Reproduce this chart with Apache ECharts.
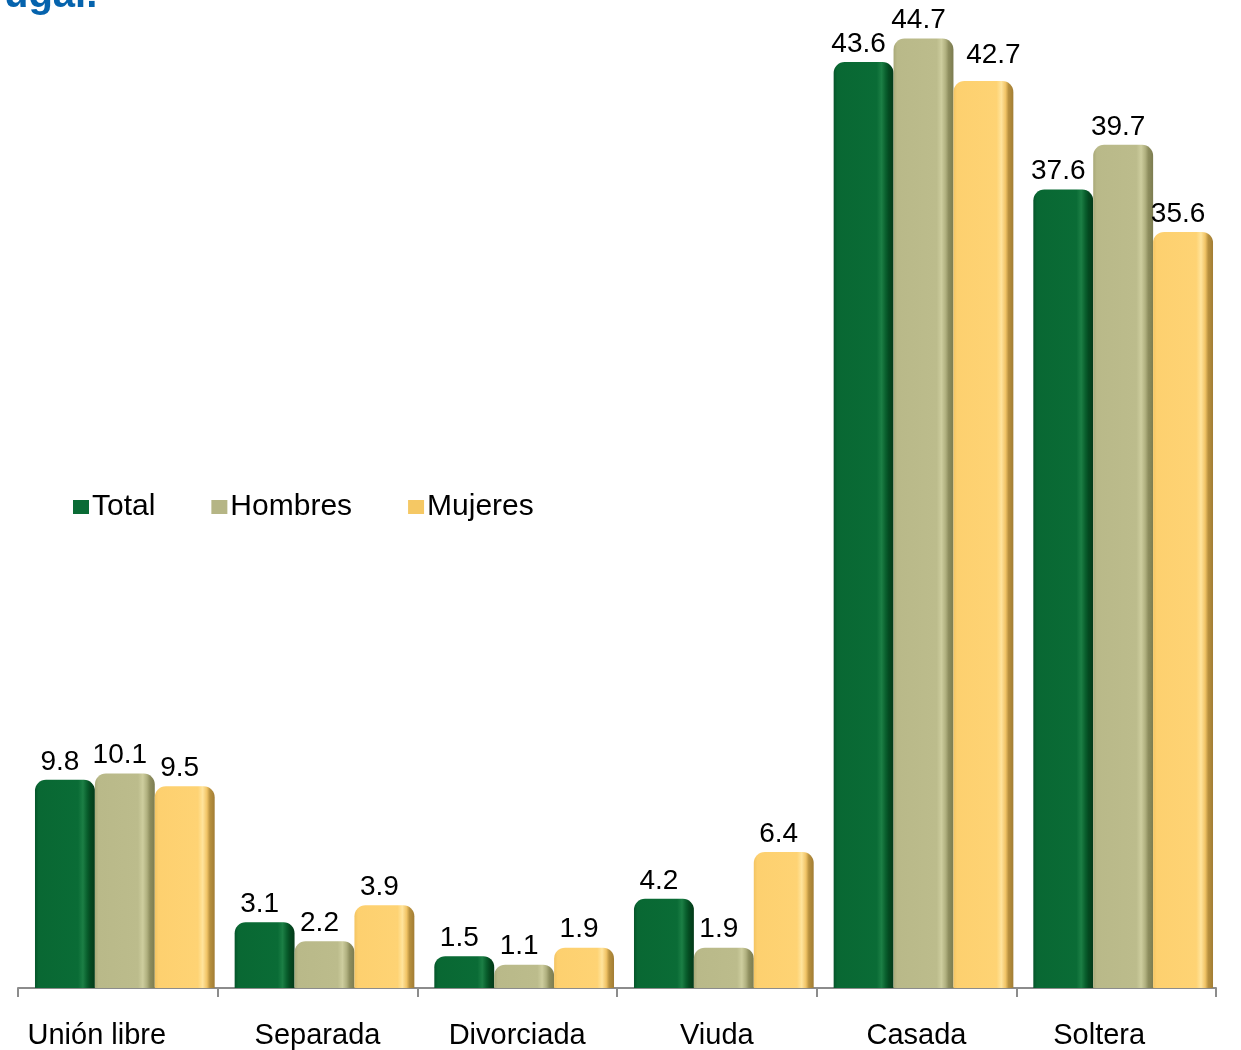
<!DOCTYPE html>
<html>
<head>
<meta charset="utf-8">
<script src="https://cdn.jsdelivr.net/npm/echarts@6/dist/echarts.min.js"></script>
<style>
html,body{margin:0;padding:0;background:#fff;}
#chart{width:1241px;height:1050px;}
</style>
</head>
<body>
<div id="chart"></div>
<script>
const categories = ['Unión libre', 'Separada', 'Divorciada', 'Viuda', 'Casada', 'Soltera'];
const totalValues = [9.8, 3.1, 1.5, 4.2, 43.6, 37.6];
const hombresValues = [10.1, 2.2, 1.1, 1.9, 44.7, 39.7];
const mujeresValues = [9.5, 3.9, 1.9, 6.4, 42.7, 35.6];
const seriesNames = ['Total', 'Hombres', 'Mujeres'];
const titleFragment = 'ugal.';

function grad(stops) {
  return new echarts.graphic.LinearGradient(0, 0, 1, 0, stops.map((c) => ({offset: c[0], color: c[1]})));
}
const styles = [
  grad([[0, '#05552a'], [0.06, '#096833'], [0.72, '#0a6c36'], [0.8, '#1c7f45'], [0.87, '#095f2d'], [0.92, '#044a21'], [1, '#033a18']]),
  grad([[0, '#a9a978'], [0.06, '#b9b989'], [0.72, '#bcbc8c'], [0.8, '#cdcd9e'], [0.87, '#b0b07f'], [0.92, '#8e8e5f'], [1, '#7c7c50']]),
  grad([[0, '#f3c462'], [0.06, '#fdd06f'], [0.72, '#fed374'], [0.8, '#ffe49c'], [0.87, '#f1c466'], [0.92, '#b8913f'], [1, '#a27d34']])
];
const legendColors = ['#0a6b35', '#b5b585', '#f5c864'];
const labelPads = [[0, 42, 0, 0], null, null, null, null, [0, 34, 0, 0]];

const chart = echarts.init(document.getElementById('chart'), null, {renderer: 'canvas'});
const dataSets = [totalValues, hombresValues, mujeresValues];
function seriesData(i) {
  return dataSets[i].map((v, j) => {
    if (i === 2 && j === 4) return {value: v, label: {offset: [10, -8]}};
    return v;
  });
}
chart.setOption({
  animation: false,
  textStyle: {fontFamily: 'Liberation Sans, Arial, sans-serif'},
  grid: [
    {left: 25, right: 18, top: 11, bottom: 62},
    {left: 18, right: 25, top: 11, bottom: 62}
  ],
  legend: {
    left: 68, top: 487, itemWidth: 16, itemHeight: 14, itemGap: 56, icon: 'rect',
    textStyle: {fontSize: 30, color: '#000', padding: [0, 0, 0, -2]},
    data: seriesNames.map((n, i) => ({name: n, itemStyle: {color: legendColors[i]}}))
  },
  xAxis: [
    {type: 'category', gridIndex: 0, data: categories, show: false},
    {
      type: 'category', gridIndex: 1,
      data: categories.map((c, i) => labelPads[i] ? {value: c, textStyle: {padding: labelPads[i]}} : c),
      axisLine: {lineStyle: {color: '#8c8c8c', width: 2}},
      axisTick: {show: true, length: 9, lineStyle: {color: '#8c8c8c', width: 2}},
      axisLabel: {fontSize: 29, color: '#000', margin: 33}
    }
  ],
  yAxis: [
    {type: 'value', gridIndex: 0, min: 0, max: 46, show: false, splitLine: {show: false}},
    {type: 'value', gridIndex: 1, min: 0, max: 46, show: false, splitLine: {show: false}}
  ],
  graphic: [{
    type: 'text', left: 4, top: -24,
    style: {text: titleFragment, fontSize: 40, fontWeight: 'bold', fill: '#0563ad', fontFamily: 'Liberation Sans, Arial, sans-serif'}
  }],
  series: seriesNames.map((n, i) => ({
    name: n, type: 'bar', data: seriesData(i), xAxisIndex: 0, yAxisIndex: 0,
    barGap: '0%', barCategoryGap: '10%',
    itemStyle: {color: styles[i], borderRadius: [11, 11, 0, 0]},
    label: {show: true, position: 'top', fontSize: 28, color: '#000', distance: 4, offset: [-5, 0]}
  }))
});
</script>
</body>
</html>
